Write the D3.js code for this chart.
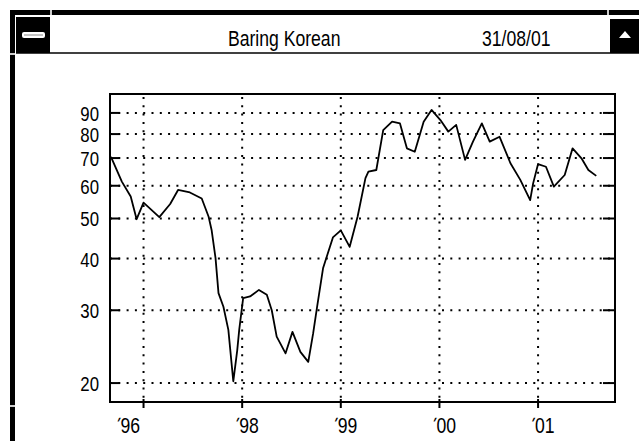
<!DOCTYPE html>
<html>
<head>
<meta charset="utf-8">
<script src="https://cdn.jsdelivr.net/npm/d3@7"></script>
<style>
  body { margin: 0; background: #fff; }
  svg { display: block; }
</style>
</head>
<body>
<div id="chart"></div>
<script>
var W = 639, H = 441;

// data
var dates = [1996.67,1996.78,1996.87,1996.93,1997.00,1997.16,1997.27,1997.35,1997.47,1997.59,
  1997.66,1997.69,1997.73,1997.76,1997.81,1997.86,1997.91,1997.95,1997.97,1998.01,
  1998.08,1998.17,1998.25,1998.30,1998.35,1998.44,1998.51,1998.59,1998.67,1998.72,
  1998.76,1998.82,1998.92,1999.00,1999.09,1999.17,1999.25,1999.28,1999.36,1999.43,
  1999.52,1999.60,1999.67,1999.75,1999.84,1999.92,2000.01,2000.09,2000.17,2000.26,
  2000.34,2000.43,2000.51,2000.61,2000.72,2000.82,2000.92,2000.95,2001.00,2001.08,
  2001.16,2001.27,2001.35,2001.44,2001.51,2001.59];
var values = [70.5,61.4,56.5,49.8,54.6,50.4,54.2,58.6,57.8,55.9,
  50.5,46.9,40.1,33.0,30.6,26.9,20.2,24.0,26.9,32.1,
  32.4,33.6,32.7,30.0,25.9,23.6,26.6,23.8,22.5,26.4,
  30.6,37.9,45.0,46.8,42.7,50.5,62.6,64.9,65.5,81.8,
  85.7,84.9,73.9,72.5,85.7,91.5,86.5,81.1,84.2,69.3,
  76.7,84.9,76.7,78.8,68.0,62.0,55.4,60.8,67.7,66.7,
  59.7,63.7,73.9,69.9,65.5,63.4];

var yTicks = [20,30,40,50,60,70,80,90];
var xTicks = [1997,1998,1999,2000,2001];
var xTickLabels = ["96","98","99","00","01"];
var title = "Baring Korean";
var dateLabel = "31/08/01";

var FONT = "Liberation Sans, Arial, sans-serif";
var SQ = 0.8; // horizontal squeeze for the narrow screen font

var svg = d3.select("#chart").append("svg")
  .attr("width", W)
  .attr("height", H);

// ---- window frame ----
svg.append("rect").attr("x",10).attr("y",10).attr("width",W-10).attr("height",5).attr("fill","#000");
svg.append("rect").attr("x",10).attr("y",10).attr("width",5).attr("height",H-10).attr("fill","#000");
// small breaks in the frame
svg.append("rect").attr("x",50).attr("y",10).attr("width",2).attr("height",5).attr("fill","#ccc");
svg.append("rect").attr("x",607).attr("y",10).attr("width",2).attr("height",5).attr("fill","#ccc");
svg.append("rect").attr("x",10).attr("y",53).attr("width",5).attr("height",2).attr("fill","#ccc");
svg.append("rect").attr("x",10).attr("y",405).attr("width",5).attr("height",2).attr("fill","#ccc");

// title bar bottom line
svg.append("line").attr("x1",16).attr("x2",W).attr("y1",53).attr("y2",53)
  .attr("stroke","#000").attr("stroke-width",1.5);

// left button
svg.append("rect").attr("x",16).attr("y",17).attr("width",34).attr("height",36).attr("fill","#000");
svg.append("rect").attr("x",22).attr("y",32).attr("width",23).attr("height",6).attr("rx",2)
  .attr("fill","#fff");
svg.append("line").attr("x1",24).attr("x2",43).attr("y1",35).attr("y2",35)
  .attr("stroke","#888").attr("stroke-width",1);

// right button
svg.append("rect").attr("x",610).attr("y",19).attr("width",W-610).attr("height",34).attr("fill","#000");
svg.append("path").attr("d","M619,38 L631,38 L625,31 Z").attr("fill","#fff");

// title texts
svg.append("text")
  .attr("transform","translate(228,46) scale("+SQ+",1)")
  .style("font-family",FONT).style("font-size","22px")
  .text(title);
svg.append("text")
  .attr("transform","translate(482,46) scale("+SQ+",1)")
  .style("font-family",FONT).style("font-size","22px")
  .text(dateLabel);

// ---- chart ----
var L = 110, R = 615, T = 94, B = 402;

var scaleX = d3.scaleLinear()
  .domain([1996.66, 2001.78])
  .range([L, R]);

var scaleY = d3.scaleLog()
  .domain([18, 100])
  .range([B, T]);

// grid lines (dotted)
svg.append("g").selectAll("line")
  .data(yTicks).enter().append("line")
  .attr("x1",L).attr("x2",R)
  .attr("y1",function(d){return scaleY(d)})
  .attr("y2",function(d){return scaleY(d)})
  .attr("stroke","#000").attr("stroke-width",2)
  .attr("stroke-dasharray","2,6.3");

svg.append("g").selectAll("line")
  .data(xTicks).enter().append("line")
  .attr("x1",function(d){return scaleX(d)})
  .attr("x2",function(d){return scaleX(d)})
  .attr("y1",T+3).attr("y2",B)
  .attr("stroke","#000").attr("stroke-width",2)
  .attr("stroke-dasharray","2,6.3");

// y ticks, inside on both sides
var yt = svg.append("g");
yTicks.forEach(function(d){
  yt.append("line").attr("x1",L).attr("x2",L+10)
    .attr("y1",scaleY(d)).attr("y2",scaleY(d))
    .attr("stroke","#000").attr("stroke-width",2);
  yt.append("line").attr("x1",R-12).attr("x2",R)
    .attr("y1",scaleY(d)).attr("y2",scaleY(d))
    .attr("stroke","#000").attr("stroke-width",2);
  yt.append("text")
    .attr("transform","translate(99,"+(scaleY(d)+8)+") scale("+SQ+",1)")
    .style("text-anchor","end")
    .style("font-family",FONT).style("font-size","21px")
    .text(d);
});

// x ticks and labels
var xt = svg.append("g");
xTicks.forEach(function(d,i){
  var x = scaleX(d);
  xt.append("line").attr("x1",x).attr("x2",x).attr("y1",B-3).attr("y2",B+6)
    .attr("stroke","#000").attr("stroke-width",2);
  var off = i === 0 ? -31 : -11; // first label sits left of its tick
  xt.append("text")
    .attr("transform","translate("+(x+off)+",430) skewX(-25)")
    .style("font-family",FONT).style("font-size","18px")
    .text("'");
  xt.append("text")
    .attr("transform","translate("+(x+off+8)+",433) scale("+SQ+",1)")
    .style("font-family",FONT).style("font-size","22px")
    .text(xTickLabels[i]);
});

// plot frame
svg.append("rect").attr("x",L).attr("y",T).attr("width",R-L).attr("height",B-T)
  .attr("fill","none").attr("stroke","#000").attr("stroke-width",2);

// series line
var line = d3.line()
  .x(function(d,i){return scaleX(dates[i])})
  .y(function(d){return scaleY(d)});

svg.append("path")
  .datum(values)
  .attr("d",line)
  .attr("fill","none")
  .attr("stroke","#000")
  .attr("stroke-width",1.8)
  .attr("stroke-linejoin","round");
</script>
</body>
</html>
